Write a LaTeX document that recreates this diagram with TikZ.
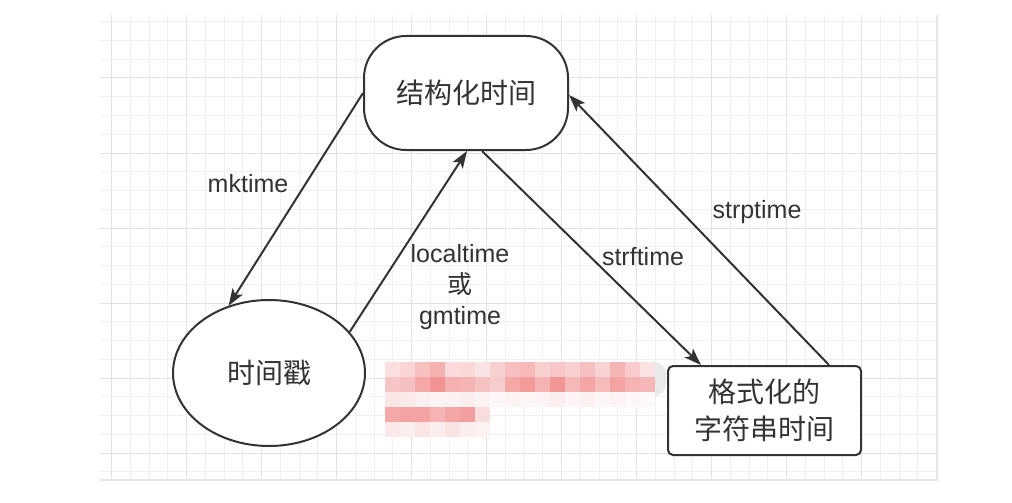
\documentclass[tikz,border=0pt]{standalone}
\usepackage{fontspec}
\setmainfont{Liberation Sans}
\newfontfamily\cjk{Noto Sans CJK SC}
\usetikzlibrary{shapes.geometric,arrows.meta}
\definecolor{ink}{HTML}{333333}
\definecolor{gridminor}{HTML}{F0F0F0}
\definecolor{gridmajor}{HTML}{E2E2E2}
\definecolor{gridedge}{HTML}{E6E6E6}
\definecolor{mosaicend}{HTML}{E9E9E9}
\begin{document}
\begin{tikzpicture}[x=1pt,y=-1pt,
  nodetext/.style={font=\cjk\fontsize{28}{37}\selectfont, text=ink, align=center},
  lbl/.style={font=\fontsize{25}{31}\selectfont, text=ink, align=center, inner sep=0pt},
  conn/.style={draw=ink, line width=2pt, -{Stealth[length=17pt,width=12pt,inset=4pt]}},
  shapebox/.style={draw=ink, line width=2pt, fill=white, inner sep=0pt}
]
\useasboundingbox (0,0) rectangle (1012,503);
\fill[white] (0,0) rectangle (1012,503);
% grid
\foreach \k in {0,...,44} {
  \pgfmathsetmacro{\xx}{111.7+18.75*\k}
  \pgfmathtruncatemacro{\m}{mod(\k,4)}
  \ifnum\m=0
    \draw[gridmajor, line width=1pt] (\xx,15) -- (\xx,480);
  \else
    \draw[gridminor, line width=1pt] (\xx,15) -- (\xx,480);
  \fi
}
\foreach \k in {0,...,24} {
  \pgfmathsetmacro{\yy}{21.75+18.75*\k}
  \pgfmathtruncatemacro{\m}{mod(\k,4)}
  \ifnum\m=3
    \draw[gridmajor, line width=1pt] (100,\yy) -- (937,\yy);
  \else
    \draw[gridminor, line width=1pt] (100,\yy) -- (937,\yy);
  \fi
}
\draw[gridedge, line width=2pt] (100,480) -- (937,480) -- (937,15);
% mosaic
\fill[mosaicend, rounded corners=12pt] (640,362) rectangle (666,396);
\foreach \c [count=\i from 0] in {FBE0E0,F9D5D5,F7C0C0,F5B0B0,FADADA,F9D8D8,F8E4E4,F7D0D0,F6BEBE,F6B8B8,F8D0D0,F7C6C6,F8D0D0,F6C0C0,F8D3D3,F5B5B5,F8CCCC,FBE3E3} {
  \definecolor{tmp}{HTML}{\c}
  \fill[tmp] (385+15*\i,362) rectangle ++(15.3,15.3);
}
\foreach \c [count=\i from 0] in {F7C5C5,F6C0C0,F4A8A8,F39494,F5B0B0,F5B3B3,F6C3C3,F7CCCC,F4A8A8,F39B9B,F5B3B3,F39696,F6B9B9,F4A5A5,F6BCBC,F4A3A3,F5B3B3,F5B7B7} {
  \definecolor{tmp}{HTML}{\c}
  \fill[tmp] (385+15*\i,377) rectangle ++(15.3,15.3);
}
\foreach \c [count=\i from 0] in {FBE6E6,FAEAEA,FCF0F0,FCF4F4,FCF2F2,FAEEEE,FCF4F4,FDF6F6,FCF3F3,FDF6F6,FCF4F4,FBEEEE,FDF5F5,FCF2F2,FDF6F6,FCF4F4,FDF7F7,FEF9F9} {
  \definecolor{tmp}{HTML}{\c}
  \fill[tmp] (385+15*\i,392) rectangle ++(15.3,15.3);
}
\foreach \c [count=\i from 0] in {F4A8A8,F4A3A3,F4A2A2,F6B3B3,F4A5A5,F39F9F,F9DCDC} {
  \definecolor{tmp}{HTML}{\c}
  \fill[tmp] (385+15*\i,407) rectangle ++(15.3,15.3);
}
\foreach \c [count=\i from 0] in {FBE8E8,FBEEEE,FAE5E5,FBEDED,FAE3E3,FBEEEE,FCF2F2} {
  \definecolor{tmp}{HTML}{\c}
  \fill[tmp] (385+15*\i,422) rectangle ++(15.3,15);
}
% nodes
\node[shapebox, nodetext, rounded corners=42pt, minimum width=204pt, minimum height=114pt] (s) at (466,93) {结构化时间};
\node[shapebox, nodetext, ellipse, minimum width=192pt, minimum height=146pt] (t) at (269,373) {时间戳};
\node[shapebox, nodetext, rounded corners=5pt, minimum width=193pt, minimum height=89pt] (f) at (764.5,410.5) {格式化的\\字符串时间};
% connectors
\draw[conn] (s.west) -- (t.121);
\draw[conn] (t.27) -- ([xshift=1pt]s.south);
\draw[conn] ([xshift=16pt]s.south) -- ([xshift=34pt]f.north west);
\draw[conn] ([xshift=-33pt]f.north east) -- ([yshift=-2pt]s.east);
% labels
\node[lbl] (lmk) at (248,184) {mktime};
\node[lbl] (lloc) at (460,287) {localtime\\{\cjk 或}\\gmtime};
\node[lbl] (lstrf) at (643,257) {strftime};
\node[lbl] (lstrp) at (757,212) {strptime};
\end{tikzpicture}
\end{document}
